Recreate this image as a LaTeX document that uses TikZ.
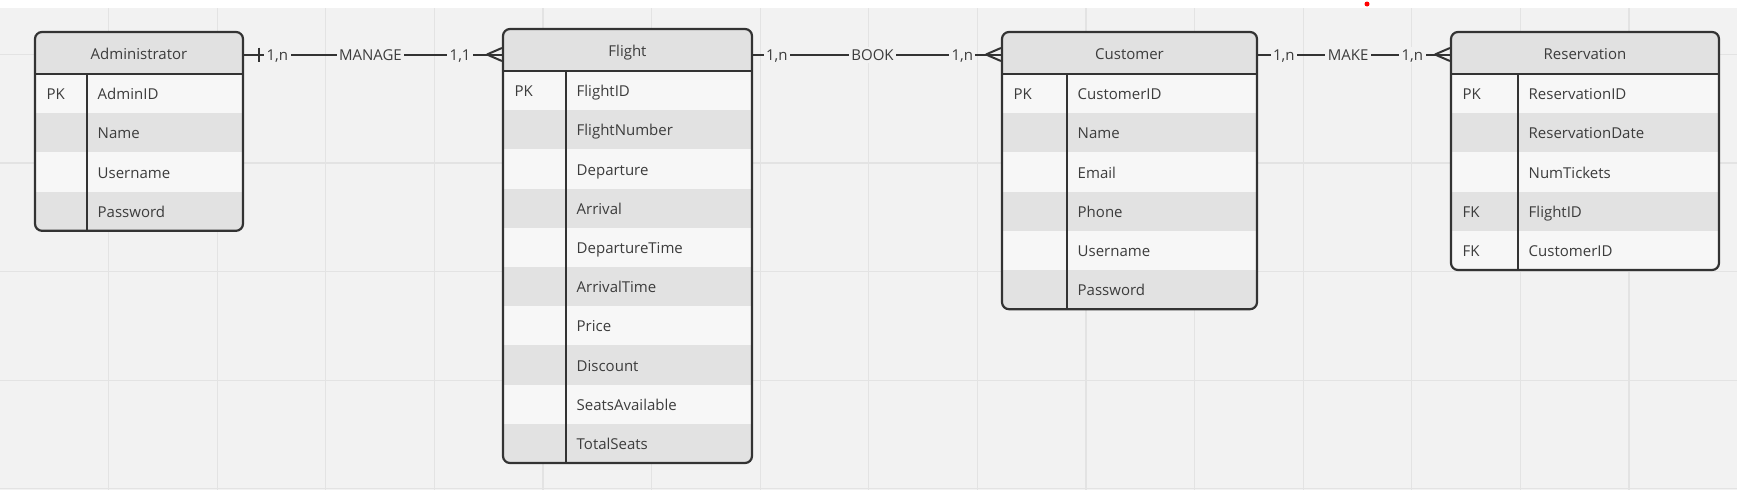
\documentclass[tikz,border=0pt]{standalone}
\usepackage{fontspec}
\setmainfont{Open Sans}

\definecolor{canvas}{HTML}{F2F2F2}
\definecolor{gridline}{HTML}{E3E3E3}
\definecolor{headfill}{HTML}{E1E1E1}
\definecolor{rowlight}{HTML}{F7F7F7}
\definecolor{rowdark}{HTML}{E2E2E2}
\definecolor{ink}{HTML}{333333}
\definecolor{txt}{HTML}{3C3C3C}

\tikzset{
  entitybox/.style={draw=ink, line width=2.2pt, rounded corners=7pt, inner sep=0pt},
  entitytext/.style={anchor=base west, inner sep=0pt, text=txt, font=\fontsize{15}{18}\selectfont},
  titletext/.style={anchor=base, inner sep=0pt, text=txt, font=\fontsize{15}{18}\selectfont},
  relline/.style={draw=ink, line width=2pt},
  card/.style={fill=canvas, inner sep=2.5pt, text=txt, font=\fontsize{15}{18}\selectfont,
    text height=11pt, text depth=0pt},
  onebar/.pic={\draw[relline] (15,-7) -- (15,7);},
  crowfoot/.pic={\draw[relline] (-15,0) -- (0,-6.5) (-15,0) -- (0,6.5);}
}

% #1 name, #2 left, #3 top, #4 right, #5 divider, #6 rows, #7 title, #8 key/field list
\newcommand{\erbox}[8]{%
  \pgfmathsetmacro\entbot{#3+42+39.2*#6}
  \pgfmathsetmacro\enthead{#3+42}
  \pgfmathsetmacro\entw{#4-#2}
  \pgfmathsetmacro\enth{\entbot-#3}
  \begin{scope}
    \clip[rounded corners=7pt] (#2,#3) rectangle (#4,\entbot);
    \fill[headfill] (#2,#3) rectangle (#4,\enthead);
    \foreach \key/\field [count=\i] in {#8}{
      \pgfmathsetmacro\rowtop{\enthead+39.2*(\i-1)}
      \ifodd\i\def\rowcol{rowlight}\else\def\rowcol{rowdark}\fi
      \fill[\rowcol] (#2,\rowtop) rectangle (#4,\rowtop+39.2);
    }
  \end{scope}
  \foreach \key/\field [count=\i] in {#8}{
    \pgfmathsetmacro\rowbase{\enthead+39.2*(\i-1)+19.6+6}
    \node[entitytext] (#1-key\i) at (#2+11.5,\rowbase) {\key};
    \node[entitytext] (#1-field\i) at (#5+10.5,\rowbase) {\field};
  }
  \draw[ink, line width=2.2pt] (#2,\enthead) -- (#4,\enthead);
  \draw[ink, line width=2.2pt] (#5,\enthead) -- (#5,\entbot);
  \node[entitybox, minimum width=\entw pt, minimum height=\enth pt] (#1)
    at ({(#2+#4)/2},{(#3+\entbot)/2}) {};
  \node[titletext] (#1-title) at ({(#2+#4)/2},#3+21+6) {#7};
}

\begin{document}
\begin{tikzpicture}[x=1pt,y=-1pt]
  \useasboundingbox (0,0) rectangle (1737,490);
  \fill[white] (0,0) rectangle (1737,490);
  \fill[canvas] (0,8) rectangle (1737,490);

  % grid
  \foreach \gx in {1,...,15}
    \draw[gridline, line width=1.2pt] (\gx*108.6,8) -- (\gx*108.6,490);
  \foreach \gy in {0,...,4}
    \draw[gridline, line width=1.2pt] (0,54.3+\gy*108.6) -- (1737,54.3+\gy*108.6);

  \fill[red] (1367,4) circle[radius=2.5pt];

  \erbox{admin}{35}{32}{243}{87}{4}{Administrator}{PK/AdminID,/Name,/Username,/Password}
  \erbox{flight}{503}{29}{752}{566}{10}{Flight}{PK/FlightID,/FlightNumber,/Departure,/Arrival,/DepartureTime,/ArrivalTime,/Price,/Discount,/SeatsAvailable,/TotalSeats}
  \erbox{customer}{1002}{32}{1257}{1067}{6}{Customer}{PK/CustomerID,/Name,/Email,/Phone,/Username,/Password}
  \erbox{reservation}{1451}{32}{1719}{1518}{5}{Reservation}{PK/ReservationID,/ReservationDate,/NumTickets,FK/FlightID,FK/CustomerID}

  % relations
  \coordinate (link) at (0,54.5);
  \draw[relline] (admin.east |- link) -- node[card,pos=0.129]{1,n} node[card,pos=0.49]{MANAGE}
    node[card,pos=0.838]{1,1} (flight.west |- link);
  \pic at (admin.east |- link) {onebar};
  \pic at (flight.west |- link) {crowfoot};

  \draw[relline] (flight.east |- link) -- node[card,pos=0.096]{1,n} node[card,pos=0.482]{BOOK}
    node[card,pos=0.844]{1,n} (customer.west |- link);
  \pic at (customer.west |- link) {crowfoot};

  \draw[relline] (customer.east |- link) -- node[card,pos=0.134]{1,n} node[card,pos=0.469]{MAKE}
    node[card,pos=0.804]{1,n} (reservation.west |- link);
  \pic at (reservation.west |- link) {crowfoot};
\end{tikzpicture}
\end{document}
